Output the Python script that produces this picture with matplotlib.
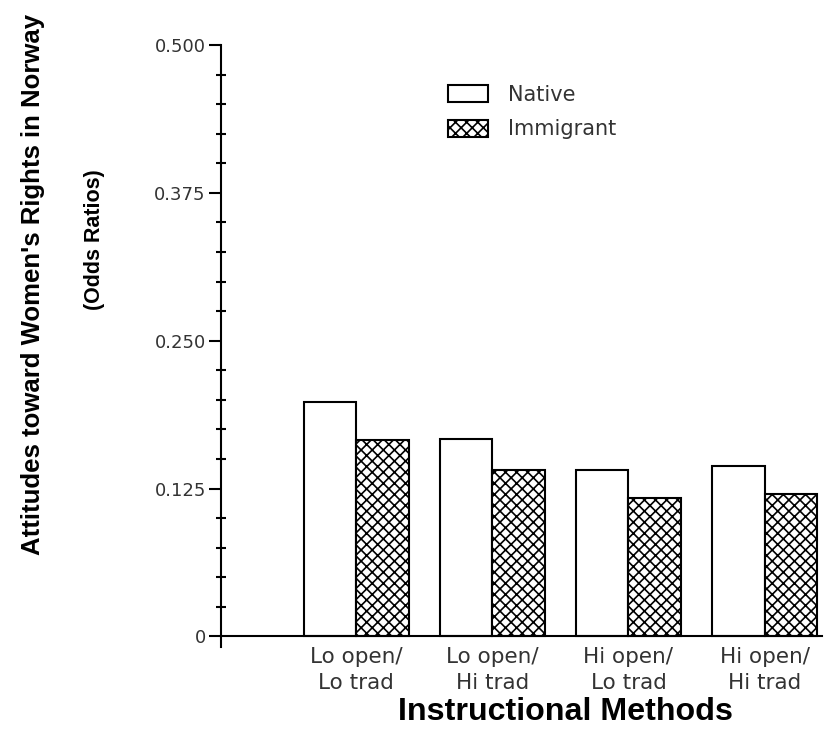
import numpy as np
import matplotlib.pyplot as plt
from matplotlib.ticker import MultipleLocator

# hodnoty
skupiny = ['Lo open/\nLo trad', 'Lo open/\nHi trad', 'Hi open/\nLo trad', 'Hi open/\nHi trad']
native = [0.198, 0.167, 0.141, 0.144]
immigrant = [0.166, 0.141, 0.117, 0.120]
yticks = [0, 0.125, 0.250, 0.375, 0.500]
ytick_labels = ['0', '0.125', '0.250', '0.375', '0.500']

plt.rcParams['hatch.linewidth'] = 1.2

fig = plt.figure(figsize=(8.3, 7.29), dpi=100)
ax = fig.add_axes([0.2663, 0.1125, 0.7237, 0.8258])

x = np.arange(len(skupiny))
w = 0.387
ax.bar(x - w/2, native, w, color='white', edgecolor='black', linewidth=1.5, label='Native')
ax.bar(x + w/2, immigrant, w, color='white', edgecolor='black', linewidth=1.5,
       hatch='xxx', label='Immigrant')

ax.set_xlim(-0.994, 3.42)
ax.set_ylim(-0.009, 0.5)
ax.spines['top'].set_visible(False)
ax.spines['right'].set_visible(False)
ax.spines['bottom'].set_position(('data', 0))
ax.spines['left'].set_linewidth(1.5)
ax.spines['bottom'].set_linewidth(1.5)

ax.set_yticks(yticks)
ax.set_yticklabels(ytick_labels, family='DejaVu Sans', fontsize=13, color='#333333')
ax.yaxis.set_minor_locator(MultipleLocator(0.025))
ax.tick_params(axis='y', which='major', length=9, width=1.5, pad=2)
ax.tick_params(axis='y', which='minor', direction='inout', length=7, width=1.5)

ax.set_xticks(x)
ax.set_xticklabels(skupiny, family='DejaVu Sans', fontsize=15.5, color='#333333', linespacing=1.36)
ax.tick_params(axis='x', length=0, pad=8)

ax.legend(loc='upper left', bbox_to_anchor=(0.5277, 0.898), bbox_transform=fig.transFigure,
          frameon=False, prop={'family': 'DejaVu Sans', 'size': 15}, handlelength=1.92,
          handleheight=0.9, handletextpad=0.96, labelspacing=0.7, borderpad=0,
          labelcolor='#333333')

fig.text(0.681, 0.023, 'Instructional Methods', family='Liberation Sans', weight='bold',
         fontsize=23.2, ha='center', va='center')
fig.text(0.040, 0.610, "Attitudes toward Women's Rights in Norway", family='Liberation Sans',
         weight='bold', fontsize=18.5, rotation=90, ha='center', va='center')
fig.text(0.114, 0.671, '(Odds Ratios)', family='Liberation Sans',
         weight='bold', fontsize=15.5, rotation=90, ha='center', va='center')

fig.savefig('out.png', dpi=100)
